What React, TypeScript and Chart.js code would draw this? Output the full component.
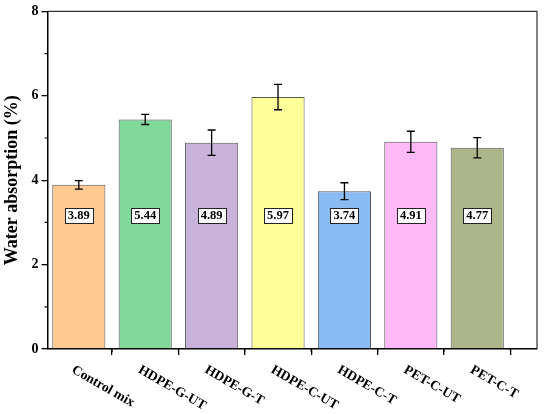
import { useEffect, useRef } from "react";
import { Chart, registerables } from "chart.js";

Chart.register(...registerables);

const CATEGORIES = ["Control mix", "HDPE-G-UT", "HDPE-G-T", "HDPE-C-UT", "HDPE-C-T", "PET-C-UT", "PET-C-T"];
const VALUES = [3.89, 5.44, 4.89, 5.97, 3.74, 4.91, 4.77];
const ERRORS = [0.1, 0.12, 0.3, 0.3, 0.2, 0.25, 0.24];
const COLORS = ["#FFC992", "#80D89A", "#C8B2D9", "#FFFF99", "#8BBBF3", "#FFB9F7", "#ADB68B"];
const POSITIONS = CATEGORIES.map((_, i) => i + 1);
const Y_MINOR = [1, 3, 5, 7];
const X_MINOR = [1.5, 2.5, 3.5, 4.5, 5.5, 6.5, 7.5];
const LABEL_Y = 3.17;

const SERIF = '"Liberation Serif", "Times New Roman", serif';

const extras = {
  id: "extras",
  afterDatasetsDraw(chart: any) {
    const { ctx } = chart;
    const y = chart.scales.y;
    const meta = chart.getDatasetMeta(0);
    ctx.save();
    // error bars
    ctx.strokeStyle = "#000";
    ctx.lineWidth = 1.3;
    meta.data.forEach((bar: any, i: number) => {
      const cx = bar.x;
      const top = y.getPixelForValue(VALUES[i] + ERRORS[i]);
      const bot = y.getPixelForValue(VALUES[i] - ERRORS[i]);
      ctx.beginPath();
      ctx.moveTo(cx, top);
      ctx.lineTo(cx, bot);
      ctx.moveTo(cx - 4, top);
      ctx.lineTo(cx + 4, top);
      ctx.moveTo(cx - 4, bot);
      ctx.lineTo(cx + 4, bot);
      ctx.stroke();
    });
    // value boxes
    ctx.font = `bold 12.5px ${SERIF}`;
    ctx.textAlign = "center";
    ctx.textBaseline = "middle";
    meta.data.forEach((bar: any, i: number) => {
      const cx = bar.x;
      const cy = y.getPixelForValue(LABEL_Y);
      const txt = VALUES[i].toFixed(2);
      const w = Math.round(ctx.measureText(txt).width + 6);
      const h = 15;
      const bx = Math.round(cx - w / 2) + 0.5;
      const by = Math.round(cy - h / 2) + 0.5;
      ctx.fillStyle = "#fff";
      ctx.fillRect(bx, by, w, h);
      ctx.lineWidth = 1;
      ctx.strokeStyle = "#222";
      ctx.strokeRect(bx, by, w, h);
      ctx.fillStyle = "#000";
      ctx.fillText(txt, cx, cy + 1);
    });
    ctx.restore();
  },
  afterDraw(chart: any) {
    const { ctx, chartArea } = chart;
    const x = chart.scales.x;
    const y = chart.scales.y;
    ctx.save();
    // top and right frame
    ctx.strokeStyle = "#333";
    ctx.lineWidth = 1.2;
    ctx.beginPath();
    ctx.moveTo(chartArea.left, chartArea.top);
    ctx.lineTo(chartArea.right, chartArea.top);
    ctx.lineTo(chartArea.right, chartArea.bottom);
    ctx.stroke();
    // minor ticks
    ctx.strokeStyle = "#000";
    ctx.lineWidth = 1.2;
    ctx.beginPath();
    Y_MINOR.forEach((v) => {
      const py = y.getPixelForValue(v);
      ctx.moveTo(chartArea.left, py);
      ctx.lineTo(chartArea.left - 3, py);
    });
    X_MINOR.forEach((v) => {
      const px = x.getPixelForValue(v);
      ctx.moveTo(px, chartArea.bottom);
      ctx.lineTo(px, chartArea.bottom + 3);
    });
    ctx.stroke();
    // rotated category labels
    ctx.font = `bold 13.5px ${SERIF}`;
    ctx.fillStyle = "#000";
    ctx.textAlign = "left";
    ctx.textBaseline = "middle";
    CATEGORIES.forEach((c, i) => {
      const px = x.getPixelForValue(POSITIONS[i]);
      ctx.save();
      ctx.translate(px - 6, chartArea.bottom + 20);
      ctx.rotate((30 * Math.PI) / 180);
      ctx.fillText(c, 0, 0);
      ctx.restore();
    });
    ctx.restore();
  },
};

export default function App() {
  const canvasRef = useRef<HTMLCanvasElement>(null);

  useEffect(() => {
    document.body.style.margin = "0";
    if (!canvasRef.current) return;
    const chart = new Chart(canvasRef.current, {
      type: "bar",
      data: {
        datasets: [
          {
            data: POSITIONS.map((p, i) => ({ x: p, y: VALUES[i] })),
            backgroundColor: COLORS,
            borderColor: "#555",
            borderWidth: 1,
            barPercentage: 1,
            categoryPercentage: 0.8,
          },
        ],
      },
      options: {
        responsive: true,
        maintainAspectRatio: false,
        animation: false,
        layout: { padding: { left: 2, top: 11, right: 13, bottom: 59 } },
        plugins: { legend: { display: false }, tooltip: { enabled: false } },
        scales: {
          x: {
            type: "linear",
            min: 0.53,
            max: 7.9,
            offset: false,
            afterBuildTicks: (s: any) => {
              s.ticks = POSITIONS.map((v) => ({ value: v }));
            },
            grid: { drawOnChartArea: false, tickLength: 6, color: "#000", lineWidth: 1.3 },
            border: { color: "#000", width: 1.5 },
            ticks: { display: false },
          },
          y: {
            min: 0,
            max: 8,
            ticks: {
              stepSize: 2,
              color: "#000",
              padding: 3,
              font: { family: SERIF, size: 14, weight: "bold" },
            },
            grid: { drawOnChartArea: false, tickLength: 6, color: "#000", lineWidth: 1.3 },
            border: { color: "#000", width: 1.5 },
            title: {
              display: true,
              text: "Water absorption (%)",
              color: "#000",
              padding: { top: 0, bottom: 5 },
              font: { family: SERIF, size: 18, weight: "bold" },
            },
          },
        },
      },
      plugins: [extras],
    });
    return () => chart.destroy();
  }, []);

  return (
    <div style={{ width: 550, height: 414, position: "relative", background: "#fff" }}>
      <canvas ref={canvasRef} />
    </div>
  );
}
